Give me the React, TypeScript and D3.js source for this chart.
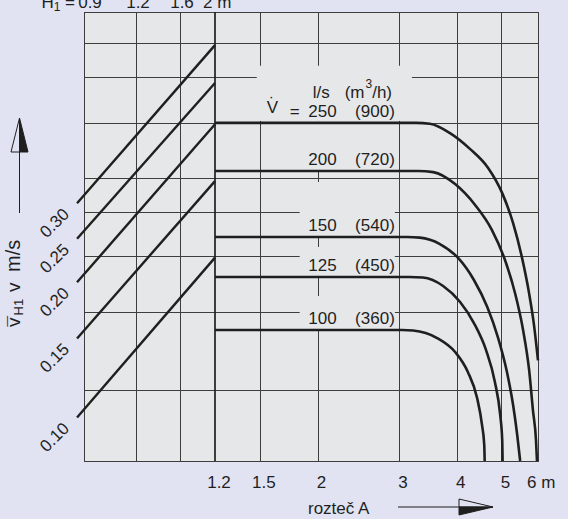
import React, { useEffect } from 'react';
import * as d3 from 'd3';

const W = 568;
const H = 519;

// top axis H1 (left block) and bottom axis A (spacing)
const h1Ticks = [0.9, 1.2, 1.6, 2];
const aTicks = [1.2, 1.5, 2, 3, 4, 5, 6];
// horizontal grid lines, v in m/s
const vGrid = [0.115, 0.172, 0.229, 0.287, 0.342, 0.453, 0.574, 0.682];

// diagonal lines in the H1 block
const diagLabels = ['0.30', '0.25', '0.20', '0.15', '0.10'];
const diagStartV = [0.3, 0.25, 0.2, 0.15, 0.1];
const diagEndV = [0.675, 0.556, 0.45, 0.336, 0.227];
const diagH1 = [0.86, 2];

// air flow curves, [A m, v m/s]
const flowLs = [250, 200, 150, 125, 100];
const flowM3h = [900, 720, 540, 450, 360];
const curve250 = [[1.2, 0.453], [2.6, 0.453], [3.02, 0.453], [3.27, 0.453], [3.5, 0.451], [3.87, 0.43], [4.28, 0.396], [4.68, 0.3595], [5.02, 0.316], [5.3, 0.271], [5.54, 0.227], [5.74, 0.189], [5.88, 0.161], [6.0, 0.134]];
const curve200 = [[1.2, 0.354], [2.6, 0.354], [3.02, 0.354], [3.3, 0.354], [3.56, 0.352], [3.97, 0.331], [4.39, 0.297], [4.77, 0.2615], [5.09, 0.2242], [5.35, 0.1894], [5.57, 0.1566], [5.74, 0.1276], [5.85, 0.1039], [5.94, 0.0891], [5.97, 0.08]];
const curve150 = [[1.2, 0.2523], [2.5, 0.2523], [2.94, 0.2523], [3.12, 0.2523], [3.33, 0.2515], [3.68, 0.2434], [4.03, 0.2266], [4.36, 0.2024], [4.66, 0.1762], [4.92, 0.1503], [5.14, 0.1263], [5.3, 0.1066], [5.41, 0.0914], [5.49, 0.08]];
const curve125 = [[1.2, 0.2056], [2.5, 0.2056], [2.94, 0.2056], [3.16, 0.2056], [3.38, 0.205], [3.74, 0.1963], [4.07, 0.1808], [4.36, 0.1623], [4.63, 0.1414], [4.84, 0.12], [4.97, 0.1013], [5.02, 0.0891], [5.03, 0.08]];
const curve100 = [[1.2, 0.1566], [2.4, 0.1566], [2.87, 0.1566], [3.05, 0.1566], [3.22, 0.1562], [3.63, 0.1503], [3.97, 0.1399], [4.23, 0.1263], [4.43, 0.1105], [4.54, 0.0962], [4.59, 0.0869], [4.6, 0.08]];
const curves = [curve250, curve200, curve150, curve125, curve100];

// how far each label's knock-out box reaches above its curve
const maskAbove = [0, 50, 55, 30, 34];

const FONT = '"Liberation Sans", Arial, Helvetica, sans-serif';
const BG = '#e1e3f2';
const PLOT = '#e6e7e9';
const INK = '#1f1f1f';
const GRID = '#3d3d3d';

const px = (v: number) => Math.round(v) + 0.5;

export default function App() {
  useEffect(() => {
    document.body.style.margin = '0';
  }, []);

  const xA = d3.scaleLog().domain([1.2, 6]).range([215, 538]);
  const xH = d3.scaleLinear().domain(h1Ticks).range([84, 136, 180, 215]);
  const y = d3.scaleLog().domain([0.08, 0.8]).range([461, 12]);

  const left = xH(0.9);
  const right = xA(6);
  const top = y(0.8);
  const bottom = y(0.08);

  const line = d3
    .line<number[]>()
    .x((d) => xA(d[0]))
    .y((d) => y(d[1]))
    .curve(d3.curveMonotoneX);

  const numEnd = xA(2.2);
  const parEnd = xA(2.94);
  const maskX0 = xA(1.83);
  const v250 = curve250[0][1];

  return (
    <svg width={W} height={H} style={{ display: 'block' }} fontFamily={FONT}>
      <rect width={W} height={H} fill={BG} />
      <rect x={left} y={top} width={right - left} height={bottom - top} fill={PLOT} />

      {/* grid */}
      <g stroke={GRID} strokeWidth={1} shapeRendering="crispEdges">
        {vGrid.map((v) => (
          <line key={'h' + v} x1={left} x2={right} y1={px(y(v))} y2={px(y(v))} />
        ))}
        {h1Ticks.slice(1, 3).map((t) => (
          <line key={'vh' + t} x1={px(xH(t))} x2={px(xH(t))} y1={top} y2={bottom} />
        ))}
        {aTicks.slice(1, 6).map((t) => (
          <line key={'va' + t} x1={px(xA(t))} x2={px(xA(t))} y1={top} y2={bottom} />
        ))}
      </g>

      {/* knock-outs behind the legend texts */}
      <g fill={PLOT}>
        <rect x={xA(1.5) - 3} y={y(0.574) - 11} width={xA(3) + 13 - (xA(1.5) - 3)} height={y(0.453) - 2 - (y(0.574) - 11)} />
        {curves.slice(1).map((c, i) => (
          <rect key={i} x={maskX0} y={y(c[0][1]) - maskAbove[i + 1]} width={parEnd - maskX0} height={maskAbove[i + 1] - 1} />
        ))}
      </g>

      {/* frame and the 1.2 divider */}
      <rect x={px(left)} y={px(top)} width={Math.round(right - left)} height={Math.round(bottom - top)} fill="none" stroke={GRID} strokeWidth={1} shapeRendering="crispEdges" />
      <line x1={xA(1.2)} x2={xA(1.2)} y1={top} y2={bottom} stroke={INK} strokeWidth={1.7} />

      {/* H1 diagonals */}
      <g stroke={INK} strokeWidth={2.4} fill="none">
        {diagStartV.map((v, i) => (
          <line key={i} x1={xH(diagH1[0])} y1={y(v)} x2={xH(diagH1[1])} y2={y(diagEndV[i])} />
        ))}
      </g>

      {/* flow curves */}
      <g stroke={INK} strokeWidth={2.6} fill="none" strokeLinecap="butt">
        {curves.map((c, i) => (
          <path key={i} d={line(c) ?? ''} />
        ))}
      </g>

      {/* diagonal labels */}
      <g fill={INK} fontSize={17} textAnchor="end">
        {diagLabels.map((l, i) => {
          const ax = xH(diagH1[0]) - 7;
          const ay = y(diagStartV[i]) + 12;
          return (
            <text key={l} transform={`translate(${ax},${ay}) rotate(-45)`}>
              {l}
            </text>
          );
        })}
      </g>

      {/* legend */}
      <g fill={INK} fontSize={17}>
        <text x={numEnd - 7} y={y(v250) - 25} textAnchor="end">l/s</text>
        <text x={numEnd + 8} y={y(v250) - 25}>
          (m
          <tspan dx={1} dy={-10} fontSize={12}>3</tspan>
          <tspan dy={10}>/h)</tspan>
        </text>
        <text x={numEnd - 70} y={y(v250) - 10}>V</text>
        <text x={numEnd - 67.5} y={y(v250) - 14}>˙</text>
        <text x={numEnd - 47} y={y(v250) - 6}>=</text>
        {flowLs.map((f, i) => (
          <g key={f}>
            <text x={numEnd} y={y(curves[i][0][1]) - 6} textAnchor="end">{f}</text>
            <text x={parEnd} y={y(curves[i][0][1]) - 6} textAnchor="end">({flowM3h[i]})</text>
          </g>
        ))}
      </g>

      {/* top H1 axis */}
      <g fill={INK} fontSize={17}>
        <text x={xH(0.9) - 9} y={8} textAnchor="end">
          H<tspan dy={3} fontSize={12}>1</tspan>
          <tspan dy={-3}> =</tspan>
        </text>
        {h1Ticks.slice(0, 3).map((t, i) => (
          <text key={t} x={xH(t) + (i === 0 ? 6 : 2)} y={8} textAnchor="middle">
            {String(t)}
          </text>
        ))}
        <text x={xH(2) - 12} y={8}>2 m</text>
      </g>

      {/* bottom A axis */}
      <g fill={INK} fontSize={17}>
        {aTicks.slice(0, 6).map((t) => (
          <text key={t} x={xA(t) + 4} y={488} textAnchor="middle">
            {String(t)}
          </text>
        ))}
        <text x={xA(6) - 11} y={488}>6 m</text>
        <text x={308} y={514}>rozteč A</text>
      </g>
      <g stroke={INK} strokeWidth={1}>
        <line x1={398} x2={459} y1={507} y2={507} />
        <polygon points="493,507 459,499 459,507" fill={BG} />
        <polygon points="493,507 459,515 459,507" fill={INK} />
      </g>

      {/* y axis label */}
      <g transform="translate(20,327) rotate(-90)" fill={INK}>
        <text x={0} y={0} fontSize={19}>v</text>
        <text x={0.5} y={1} fontSize={19}>¯</text>
        <text x={11.5} y={3} fontSize={13}>H1</text>
        <text x={35} y={0} fontSize={19}>v</text>
        <text x={55} y={0} fontSize={20}>m/s</text>
      </g>
      <g stroke={INK} strokeWidth={1}>
        <line x1={19.5} x2={19.5} y1={213} y2={152} />
        <polygon points="19.5,118 11,152 19.5,152" fill={BG} />
        <polygon points="19.5,118 28,152 19.5,152" fill={INK} />
      </g>
    </svg>
  );
}
